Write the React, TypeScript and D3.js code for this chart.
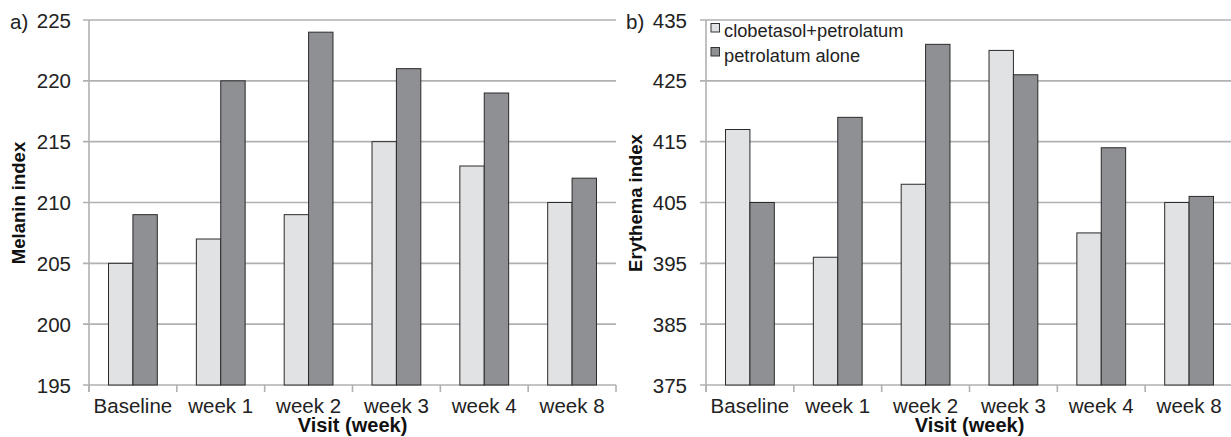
import React from "react";
import * as d3 from "d3";

const categories = ["Baseline", "week 1", "week 2", "week 3", "week 4", "week 8"];
const seriesNames = ["clobetasol+petrolatum", "petrolatum alone"];
const melaninClobetasol = [205, 207, 209, 215, 213, 210];
const melaninPetrolatum = [209, 220, 224, 221, 219, 212];
const erythemaClobetasol = [417, 396, 408, 430, 400, 405];
const erythemaPetrolatum = [405, 419, 431, 426, 414, 406];
const melaninTicks = [195, 200, 205, 210, 215, 220, 225];
const erythemaTicks = [375, 385, 395, 405, 415, 425, 435];

const FILLS = ["#e1e2e4", "#8f9094"];
const GRID = "#b1b1b4";
const FONT = "'Liberation Sans', Arial, sans-serif";

type PanelProps = {
  left: number;
  right: number;
  tag: string;
  tagX: number;
  labelRight: number;
  title: string;
  titleX: number;
  ticks: number[];
  a: number[];
  b: number[];
  legend?: boolean;
};

const TOP = 20;
const BOTTOM = 385;

function Panel(p: PanelProps) {
  const x0 = d3.scaleBand<string>().domain(categories).range([p.left, p.right]).paddingInner(0).paddingOuter(0);
  const x1 = d3.scaleBand<string>().domain(seriesNames).range([0, x0.bandwidth()]).paddingInner(0).paddingOuter(0.8);
  const y = d3.scaleLinear().domain([p.ticks[0], p.ticks[p.ticks.length - 1]]).range([BOTTOM, TOP]);
  const vals = [p.a, p.b];
  const boundaries = categories.map((c) => x0(c) as number).concat([p.right]);
  return (
    <g>
      {p.ticks.map((t) => (
        <g key={t}>
          <line x1={p.left - 6} x2={p.right} y1={y(t)} y2={y(t)} stroke={GRID} strokeWidth={1.6} />
          <text x={p.labelRight} y={y(t) + 7.5} textAnchor="end" fontSize={20.5} fill="#222" fontFamily={FONT}>
            {t}
          </text>
        </g>
      ))}
      <line x1={p.left} x2={p.left} y1={TOP} y2={BOTTOM + 7} stroke={GRID} strokeWidth={1.6} />
      {boundaries.map((bx, i) => (
        <line key={i} x1={bx} x2={bx} y1={BOTTOM} y2={BOTTOM + 7} stroke={GRID} strokeWidth={1.6} />
      ))}
      {categories.map((c, i) => (
        <g key={c}>
          {seriesNames.map((s, j) => {
            const v = vals[j][i];
            const bx = (x0(c) as number) + (x1(s) as number);
            return (
              <rect
                key={s}
                x={bx}
                y={y(v)}
                width={x1.bandwidth()}
                height={BOTTOM - y(v)}
                fill={FILLS[j]}
                stroke="#2a2a2a"
                strokeWidth={1}
              />
            );
          })}
          <text
            x={(x0(c) as number) + x0.bandwidth() / 2}
            y={413}
            textAnchor="middle"
            fontSize={20.5}
            fill="#222"
            fontFamily={FONT}
          >
            {c}
          </text>
        </g>
      ))}
      <text x={p.tagX} y={29} fontSize={20.5} fill="#222" fontFamily={FONT}>
        {p.tag}
      </text>
      <text
        x={(p.left + p.right) / 2}
        y={432}
        textAnchor="middle"
        fontSize={20}
        fontWeight="bold"
        fill="#111"
        fontFamily={FONT}
      >
        Visit (week)
      </text>
      <text
        transform={`translate(${p.titleX},${203}) rotate(-90)`}
        textAnchor="middle"
        fontSize={18.5}
        fontWeight="bold"
        fill="#111"
        fontFamily={FONT}
      >
        {p.title}
      </text>
      {p.legend &&
        seriesNames.map((s, j) => (
          <g key={s}>
            <rect x={p.left + 5} y={23.5 + j * 24} width={8.5} height={8.5} fill={FILLS[j]} stroke="#333" strokeWidth={1} />
            <text x={p.left + 18} y={37 + j * 24.5} fontSize={18.3} fill="#222" fontFamily={FONT}>
              {s}
            </text>
          </g>
        ))}
    </g>
  );
}

export default function App() {
  return (
    <svg
      width={1231}
      height={437}
      style={{ position: "absolute", left: 0, top: 0, background: "#fff" }}
    >
      <rect x={0} y={0} width={1231} height={437} fill="#fff" />
      <Panel
        left={89}
        right={616}
        tag="a)"
        tagX={10}
        labelRight={71}
        title="Melanin index"
        titleX={25}
        ticks={melaninTicks}
        a={melaninClobetasol}
        b={melaninPetrolatum}
      />
      <Panel
        left={706}
        right={1233}
        tag="b)"
        tagX={626}
        labelRight={687}
        title="Erythema index"
        titleX={642}
        ticks={erythemaTicks}
        a={erythemaClobetasol}
        b={erythemaPetrolatum}
        legend
      />
    </svg>
  );
}
